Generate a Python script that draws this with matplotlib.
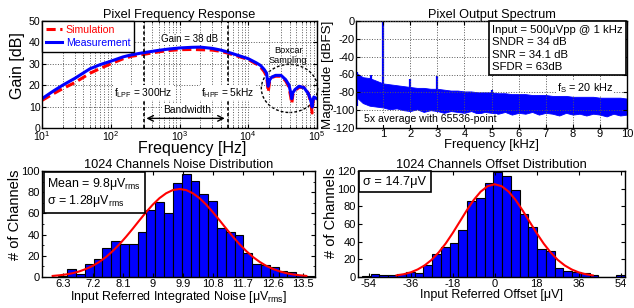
"""Pixel characterisation figure: frequency response, output spectrum,
noise and offset distributions (four panels)."""
import matplotlib
matplotlib.use("Agg")
import matplotlib.pyplot as plt
from matplotlib.patches import Ellipse

plt.rcParams["font.family"] = ["Liberation Sans", "DejaVu Sans"]
plt.rcParams["mathtext.fontset"] = "custom"
plt.rcParams["mathtext.rm"] = "Liberation Sans"
plt.rcParams["axes.unicode_minus"] = False

# ---- panel 1: frequency response ----
freq_hz = [10, 15, 20, 30, 50, 70, 100, 150, 200, 300, 500, 700, 1000, 1500,
           2000, 3000, 4000, 5000, 7000, 10000, 13000, 15000, 17000, 18500,
           19500, 20500, 22000, 25000, 30000, 35000, 39000, 41500, 43000,
           44500, 48000, 55000, 65000, 75000, 80000, 83000, 85000, 87000,
           90000, 100000]
gain_meas = [13.7, 17.5, 20.0, 23.2, 27.7, 29.6, 31.2, 33.2, 34.2, 35.2, 36.3,
             36.9, 37.4, 37.7, 37.8, 37.2, 36.4, 35.5, 34.0, 32.4, 30.5, 29.3,
             27.4, 25.6, 19.5, 22.5, 23.8, 24.6, 24.6, 22.6, 20.2, 16.5, 13.7,
             16.5, 18.0, 19.5, 18.8, 16.0, 13.5, 11.5, 9.8, 12.5, 14.5, 13.7]
gain_sim = [12.9, 16.2, 18.4, 21.2, 25.6, 27.8, 30.0, 32.3, 33.5, 34.4, 35.6,
            36.2, 36.6, 36.7, 36.6, 36.4, 35.8, 35.0, 33.6, 32.0, 30.0, 28.6,
            26.4, 24.2, 16.8, 22.0, 23.6, 24.2, 24.2, 22.0, 19.2, 14.5, 11.4,
            15.5, 17.6, 19.0, 19.0, 16.2, 12.6, 9.5, 7.0, 11.5, 14.0, 13.2]

# ---- panel 2: output spectrum ----
spec_khz = [0, 0.25, 0.5, 0.75, 1.0, 1.25, 1.5, 1.75, 2.0, 2.25, 2.5, 2.75,
            3.0, 3.25, 3.5, 3.75, 4.0, 4.25, 4.5, 4.75, 5.0, 5.25, 5.5, 5.75,
            6.0, 6.25, 6.5, 6.75, 7.0, 7.25, 7.5, 7.75, 8.0, 8.25, 8.5, 8.75,
            9.0, 9.25, 9.5, 9.75, 10.0]
spec_upper = [-58, -63, -64, -67, -70, -71, -72, -73, -74, -75, -75, -76,
              -76, -77, -78, -78, -79, -79, -80, -80, -80, -81, -81, -82,
              -82, -82, -83, -83, -83, -84, -84, -84, -85, -85, -85, -85,
              -86, -86, -86, -86, -87]
spec_lower = [-85, -92, -95, -96, -97, -99, -98, -100, -101, -99, -102, -100,
              -101, -103, -101, -102, -103, -101, -104, -102, -103, -104,
              -102, -105, -103, -104, -102, -105, -103, -104, -106, -103,
              -105, -104, -106, -104, -105, -107, -104, -106, -105]
tone_khz = [0.05, 0.54, 1.0, 2.0, 3.0, 5.0]
tone_db = [-57, -61, 0, -65, -62, -77]

# ---- panel 3: noise histogram ----
noise_edge0 = 6.17
noise_bin_w = 0.264
noise_counts = [1, 8, 3, 12, 17, 27, 34, 31, 31, 42, 63, 71, 60, 89, 97, 91,
                78, 72, 46, 42, 40, 23, 12, 11, 9, 6, 5, 2, 1]
noise_fit_x = [6.0, 6.2, 6.4, 6.6, 6.8, 7.0, 7.2, 7.4, 7.6, 7.8, 8.0, 8.2,
               8.4, 8.6, 8.8, 9.0, 9.2, 9.4, 9.6, 9.8, 10.0, 10.2, 10.4, 10.6,
               10.8, 11.0, 11.2, 11.4, 11.6, 11.8, 12.0, 12.2, 12.4, 12.6,
               12.8, 13.0, 13.2, 13.4, 13.6]
noise_fit_y = [1.0, 1.6, 2.4, 3.6, 5.3, 7.6, 10.5, 14.3, 18.9, 24.5, 30.9,
               38.0, 45.6, 53.5, 61.2, 68.3, 74.4, 79.0, 82.0, 83.0, 82.0,
               79.0, 74.4, 68.3, 61.2, 53.5, 45.6, 38.0, 30.9, 24.5, 18.9,
               14.3, 10.5, 7.6, 5.3, 3.6, 2.4, 1.6, 1.0]
noise_ticks = [6.3, 7.2, 8.1, 9, 9.9, 10.8, 11.7, 12.6, 13.5]

# ---- panel 4: offset histogram ----
offset_edge0 = -56.8
offset_bin_w = 3.75
offset_counts = [1, 3, 2, 2, 3, 6, 5, 14, 26, 34, 39, 53, 86, 90, 106, 119,
                 114, 99, 71, 57, 32, 30, 10, 7, 6, 5, 2, 0, 0, 2]
offset_fit_x = [-42, -39, -36, -33, -30, -27, -24, -21, -18, -15, -12, -9,
                -6, -3, 0, 3, 6, 9, 12, 15, 18, 21, 24, 27, 30, 33, 36, 39, 42]
offset_fit_y = [1.8, 3.1, 5.2, 8.5, 13.1, 19.4, 27.7, 37.8, 49.6, 62.4, 75.2,
                87.1, 96.6, 102.8, 105.0, 102.8, 96.6, 87.1, 75.2, 62.4, 49.6,
                37.8, 27.7, 19.4, 13.1, 8.5, 5.2, 3.1, 1.8]
offset_ticks = [-54, -36, -18, 0, 18, 36, 54]

TITLE_FS = 9.2
TICK_FS = 8.0
ANNOT_FS = 7.0
GRID = dict(color="0.35", linestyle=":", linewidth=0.7)


def style_axes(ax, tick_fs=TICK_FS, pad=1.5):
    ax.tick_params(direction="in", top=True, right=True, labelsize=tick_fs,
                   length=3, pad=pad)
    ax.tick_params(which="minor", direction="in", top=True, right=True,
                   length=1.5)
    for sp in ax.spines.values():
        sp.set_linewidth(1.0)


fig = plt.figure(figsize=(6.34, 3.08), dpi=100)

# ---------------- frequency response ----------------
ax1 = fig.add_axes([42 / 634, 180 / 308, 275 / 634, 107 / 308])
ax1.semilogx(freq_hz, gain_sim, color="red", lw=2.2, ls=(0, (3, 1.5)),
             label="Simulation")
ax1.semilogx(freq_hz, gain_meas, color="blue", lw=2.2, label="Measurement")
ax1.set_xlim(10, 1e5)
ax1.set_ylim(0, 50)
ax1.set_yticks(range(0, 51, 10))
ax1.grid(True, which="both", **GRID)
ax1.axvline(300, color="black", ls=(0, (2, 1.5)), lw=1.2)
ax1.axvline(5000, color="black", ls=(0, (2, 1.5)), lw=1.2)
box = dict(facecolor="white", edgecolor="none", pad=0.5)
ax1.text(300, 16.5, r"f$_{\rm LPF}$ = 300Hz", ha="center", va="center",
         fontsize=ANNOT_FS + 0.3, bbox=box)
ax1.text(5000, 16.5, r"f$_{\rm HPF}$ = 5kHz", ha="center", va="center",
         fontsize=ANNOT_FS + 0.3, bbox=box)
ax1.annotate("", xy=(300, 4.5), xytext=(5000, 4.5),
             arrowprops=dict(arrowstyle="<->", color="black", lw=1.0))
ax1.text(1300, 8.5, "Bandwidth", ha="center", va="center",
         fontsize=ANNOT_FS + 0.4, bbox=box)
ax1.text(1400, 41.5, "Gain = 38 dB", ha="center", va="center",
         fontsize=ANNOT_FS, bbox=box)
ax1.text(38000, 34, "Boxcar\nSampling", ha="center", va="center",
         fontsize=ANNOT_FS - 0.4, linespacing=1.15)
ax1.add_patch(Ellipse((0.90, 0.37), 0.205, 0.45, transform=ax1.transAxes,
                      fill=False, ec="black", ls=(0, (2, 1.5)), lw=1.0,
                      clip_on=False))
leg = ax1.legend(loc="upper left", fontsize=7.6, frameon=True, fancybox=False,
                 edgecolor="black", borderaxespad=0, handlelength=1.5,
                 handletextpad=0.4, borderpad=0.35, labelspacing=0.3)
leg.get_frame().set_linewidth(1.0)
leg.get_frame().set_alpha(1)
for txt, col in zip(leg.get_texts(), ["red", "blue"]):
    txt.set_color(col)
ax1.set_title("Pixel Frequency Response", fontsize=TITLE_FS, pad=2)
ax1.set_xlabel("Frequency [Hz]", fontsize=11.5)
ax1.xaxis.set_label_coords(0.547, -0.12)
ax1.set_ylabel("Gain [dB]", fontsize=11.5)
ax1.yaxis.set_label_coords(-0.062, 0.58)
style_axes(ax1, tick_fs=7.6, pad=1)

# ---------------- output spectrum ----------------
ax2 = fig.add_axes([356 / 634, 180 / 308, 271 / 634, 107 / 308])
ax2.fill_between(spec_khz, spec_lower, spec_upper, color="blue", lw=0.6,
                 edgecolor="blue")
ax2.vlines(tone_khz, -95, tone_db, color="blue", lw=1.6)
ax2.set_xlim(0, 10)
ax2.set_ylim(-120, 0)
ax2.set_xticks(range(1, 11))
ax2.set_yticks(range(-120, 1, 20))
ax2.grid(True, **GRID)
ax2.set_axisbelow(False)
ax2.text(0.985, 0.965,
         "Input = 500μVpp @ 1 kHz\nSNDR = 34 dB\nSNR = 34.1 dB\nSFDR = 63dB",
         transform=ax2.transAxes, ha="right", va="top", ma="left",
         fontsize=8.2, linespacing=1.3,
         bbox=dict(facecolor="white", edgecolor="black", lw=1.2, pad=2.5))
ax2.text(8.45, -75, r"f$_{\rm S}$ = 20 kHz", ha="center", va="center",
         fontsize=7.8, bbox=box)
ax2.text(0.3, -110, "5x average with 65536-point", ha="left", va="center",
         fontsize=7.6, bbox=dict(facecolor="white", edgecolor="none",
                                 pad=0.3))
ax2.set_title("Pixel Output Spectrum", fontsize=TITLE_FS, pad=2)
ax2.set_xlabel("Frequency [kHz]", fontsize=9.4)
ax2.xaxis.set_label_coords(0.5, -0.1)
ax2.set_ylabel("Magnitude [dBFS]", fontsize=9.7)
ax2.yaxis.set_label_coords(-0.083, 0.5)
style_axes(ax2, tick_fs=8.0, pad=1)

# ---------------- noise histogram ----------------
ax3 = fig.add_axes([42 / 634, 31 / 308, 273 / 634, 106 / 308])
noise_left = [noise_edge0 + i * noise_bin_w for i in range(len(noise_counts))]
ax3.bar(noise_left, noise_counts, width=noise_bin_w, align="edge",
        color="blue", edgecolor="black", lw=0.8)
ax3.plot(noise_fit_x, noise_fit_y, color="red", lw=1.5)
ax3.set_xlim(5.68, 13.86)
ax3.set_ylim(0, 100)
ax3.set_xticks(noise_ticks)
ax3.set_xticklabels([f"{t:g}" for t in noise_ticks])
ax3.set_yticks(range(0, 101, 20))
ax3.set_yticks(range(0, 101, 10), minor=True)
ax3.text(0.02, 0.955, "Mean = 9.8μV$_{\\rm rms}$\nσ = 1.28μV$_{\\rm rms}$",
         transform=ax3.transAxes, ha="left", va="top", fontsize=8.9,
         linespacing=1.15,
         bbox=dict(facecolor="white", edgecolor="black", lw=1.2, pad=2.5))
ax3.set_title("1024 Channels Noise Distribution", fontsize=TITLE_FS, pad=2)
ax3.set_xlabel("Input Referred Integrated Noise [μV$_{\\rm rms}$]",
               fontsize=9.0)
ax3.xaxis.set_label_coords(0.5, -0.113)
ax3.set_ylabel("# of Channels", fontsize=10.5)
ax3.yaxis.set_label_coords(-0.075, 0.59)
style_axes(ax3)

# ---------------- offset histogram ----------------
ax4 = fig.add_axes([358 / 634, 31 / 308, 267 / 634, 106 / 308])
offset_left = [offset_edge0 + i * offset_bin_w
               for i in range(len(offset_counts))]
ax4.bar(offset_left, offset_counts, width=offset_bin_w, align="edge",
        color="blue", edgecolor="black", lw=0.8)
ax4.plot(offset_fit_x, offset_fit_y, color="red", lw=1.5)
ax4.set_xlim(-58.5, 55.8)
ax4.set_ylim(0, 120)
ax4.set_xticks(offset_ticks)
ax4.set_yticks(range(0, 121, 20))
ax4.text(0.02, 0.955, "σ = 14.7μV", transform=ax4.transAxes, ha="left",
         va="top", fontsize=9.2,
         bbox=dict(facecolor="white", edgecolor="black", lw=1.2, pad=3.2))
ax4.set_title("1024 Channels Offset Distribution", fontsize=TITLE_FS, pad=2)
ax4.set_xlabel("Input Referred Offset [μV]", fontsize=9.0)
ax4.xaxis.set_label_coords(0.5, -0.113)
ax4.set_ylabel("# of Channels", fontsize=10.5)
ax4.yaxis.set_label_coords(-0.075, 0.61)
style_axes(ax4)

fig.savefig("out.png", dpi=100)
